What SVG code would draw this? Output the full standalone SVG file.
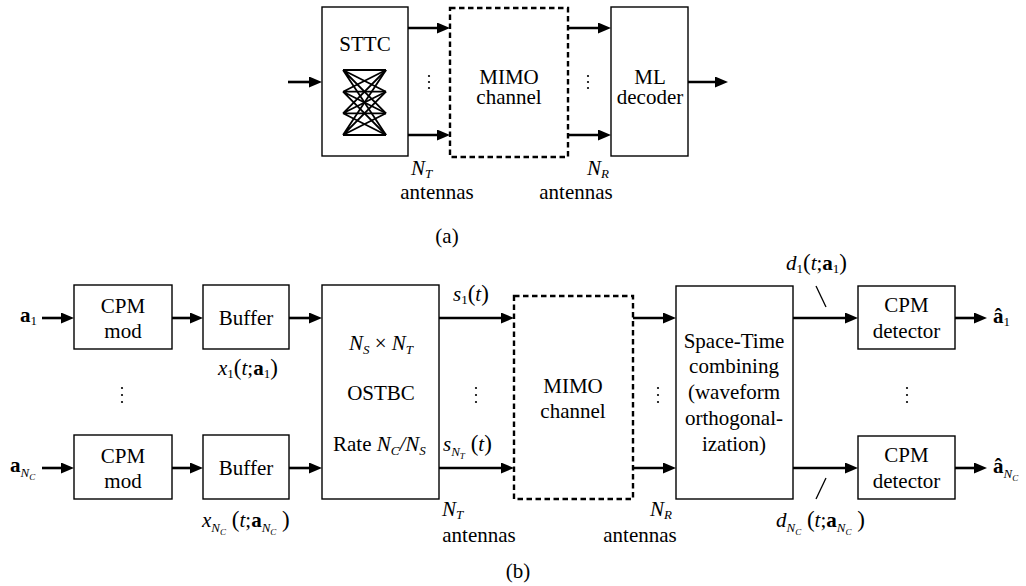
<svg xmlns="http://www.w3.org/2000/svg" width="1026" height="586" viewBox="0 0 1026 586" font-family="Times New Roman, Liberation Serif, serif">
<defs>
<style>
.c{text-anchor:middle}
.i{font-style:italic}
.b{font-weight:bold}
.s{font-size:13px}
.ss{font-size:9px;font-style:italic}
.p{font-size:23px}
.box{fill:#fff;stroke:#000;stroke-width:1.4}
.dash{fill:#fff;stroke:#000;stroke-width:2.4;stroke-dasharray:5.5 3.5}
.arr{stroke:#000;stroke-width:2.6;fill:none;marker-end:url(#ah)}
.thin{stroke:#000;stroke-width:1.3;fill:none}
.tr{stroke:#000;stroke-width:1.8;fill:none}
</style>
<marker id="ah" markerUnits="userSpaceOnUse" markerWidth="13" markerHeight="11" refX="7" refY="5.5" orient="auto">
<path d="M0,0 L13,5.5 L0,11 Z" fill="#000"/>
</marker>
</defs>

<g id="sttc">
<rect class="box" x="322" y="7" width="86" height="149"/>
<text font-family="Times New Roman, Liberation Serif, serif" font-size="21" class="c" x="365" y="51">STTC</text>
<g class="tr">
<path d="M343,70 L386,70 M343,70 L386,91.7 M343,70 L386,113.3 M343,70 L386,135"/>
<path d="M343,91.7 L386,70 M343,91.7 L386,91.7 M343,91.7 L386,113.3 M343,91.7 L386,135"/>
<path d="M343,113.3 L386,70 M343,113.3 L386,91.7 M343,113.3 L386,113.3 M343,113.3 L386,135"/>
<path d="M343,135 L386,70 M343,135 L386,91.7 M343,135 L386,113.3 M343,135 L386,135"/>
</g>
</g>
<g id="mimo-a">
<rect class="dash" x="450" y="8" width="118" height="149"/>
<text font-family="Times New Roman, Liberation Serif, serif" font-size="21" class="c" x="509" y="84">MIMO</text>
<text font-family="Times New Roman, Liberation Serif, serif" font-size="21" class="c" x="509" y="104">channel</text>
</g>
<g id="ml-decoder">
<rect class="box" x="611" y="7" width="77" height="149"/>
<text font-family="Times New Roman, Liberation Serif, serif" font-size="21" class="c" x="650" y="84">ML</text>
<text font-family="Times New Roman, Liberation Serif, serif" font-size="21" class="c" x="650" y="104">decoder</text>
</g>
<g id="labels-a" font-family="Times New Roman, Liberation Serif, serif" font-size="21">
<text font-family="Times New Roman, Liberation Serif, serif" x="411" y="175"><tspan class="i">N</tspan><tspan class="s i" dy="3">T</tspan></text>
<text font-family="Times New Roman, Liberation Serif, serif" class="c" x="437" y="199">antennas</text>
<text font-family="Times New Roman, Liberation Serif, serif" x="587" y="175"><tspan class="i">N</tspan><tspan class="s i" dy="3">R</tspan></text>
<text font-family="Times New Roman, Liberation Serif, serif" class="c" x="576" y="199">antennas</text>
<text font-family="Times New Roman, Liberation Serif, serif" class="c" x="447" y="243">(a)</text>
<g fill="#000">
<circle cx="429" cy="76" r="1.1"/><circle cx="429" cy="82" r="1.1"/><circle cx="429" cy="88" r="1.1"/>
<circle cx="588" cy="76" r="1.1"/><circle cx="588" cy="82" r="1.1"/><circle cx="588" cy="88" r="1.1"/>
</g>
</g>

<g id="cpm-mod-1" font-family="Times New Roman, Liberation Serif, serif" font-size="21">
<rect class="box" x="74" y="285" width="98" height="64"/>
<text font-family="Times New Roman, Liberation Serif, serif" class="c" x="123" y="313">CPM</text>
<text font-family="Times New Roman, Liberation Serif, serif" class="c" x="123" y="338">mod</text>
</g>
<g id="cpm-mod-n" font-family="Times New Roman, Liberation Serif, serif" font-size="21">
<rect class="box" x="74" y="435" width="98" height="64"/>
<text font-family="Times New Roman, Liberation Serif, serif" class="c" x="123" y="463">CPM</text>
<text font-family="Times New Roman, Liberation Serif, serif" class="c" x="123" y="488">mod</text>
</g>
<g id="buffer-1" font-family="Times New Roman, Liberation Serif, serif" font-size="21">
<rect class="box" x="203" y="285" width="86" height="64"/>
<text font-family="Times New Roman, Liberation Serif, serif" class="c" x="246" y="325">Buffer</text>
</g>
<g id="buffer-n" font-family="Times New Roman, Liberation Serif, serif" font-size="21">
<rect class="box" x="203" y="435" width="86" height="64"/>
<text font-family="Times New Roman, Liberation Serif, serif" class="c" x="246" y="475">Buffer</text>
</g>
<g id="ostbc" font-family="Times New Roman, Liberation Serif, serif" font-size="21">
<rect class="box" x="322" y="285" width="117" height="214"/>
<text font-family="Times New Roman, Liberation Serif, serif" class="c" x="381" y="350"><tspan class="i">N</tspan><tspan class="s i" dy="4">S</tspan><tspan dy="-4"> × </tspan><tspan class="i">N</tspan><tspan class="s i" dy="4">T</tspan></text>
<text font-family="Times New Roman, Liberation Serif, serif" class="c" x="381" y="400">OSTBC</text>
<text font-family="Times New Roman, Liberation Serif, serif" x="333" y="451">Rate <tspan class="i">N</tspan><tspan class="s i" dy="4">C</tspan><tspan class="i" dy="-4">/N</tspan><tspan class="s i" dy="4">S</tspan></text>
</g>
<g id="mimo-b" font-family="Times New Roman, Liberation Serif, serif" font-size="21">
<rect class="dash" x="514" y="296" width="119" height="203"/>
<text font-family="Times New Roman, Liberation Serif, serif" class="c" x="573" y="393">MIMO</text>
<text font-family="Times New Roman, Liberation Serif, serif" class="c" x="573" y="418">channel</text>
</g>
<g id="st-combining" font-family="Times New Roman, Liberation Serif, serif" font-size="21">
<rect class="box" x="676" y="286" width="117" height="213"/>
<text font-family="Times New Roman, Liberation Serif, serif" class="c" x="734" y="348">Space-Time</text>
<text font-family="Times New Roman, Liberation Serif, serif" class="c" x="734" y="373">combining</text>
<text font-family="Times New Roman, Liberation Serif, serif" class="c" x="734" y="399">(waveform</text>
<text font-family="Times New Roman, Liberation Serif, serif" class="c" x="734" y="425">orthogonal-</text>
<text font-family="Times New Roman, Liberation Serif, serif" class="c" x="734" y="451">ization)</text>
</g>
<g id="cpm-det-1" font-family="Times New Roman, Liberation Serif, serif" font-size="21">
<rect class="box" x="858" y="286" width="97" height="63"/>
<text font-family="Times New Roman, Liberation Serif, serif" class="c" x="906.5" y="312">CPM</text>
<text font-family="Times New Roman, Liberation Serif, serif" class="c" x="906.5" y="338">detector</text>
</g>
<g id="cpm-det-n" font-family="Times New Roman, Liberation Serif, serif" font-size="21">
<rect class="box" x="858" y="436" width="97" height="63"/>
<text font-family="Times New Roman, Liberation Serif, serif" class="c" x="906.5" y="462">CPM</text>
<text font-family="Times New Roman, Liberation Serif, serif" class="c" x="906.5" y="488">detector</text>
</g>

<g id="labels-b" font-family="Times New Roman, Liberation Serif, serif" font-size="21">
<text font-family="Times New Roman, Liberation Serif, serif" x="20" y="322"><tspan class="b">a</tspan><tspan class="s" dy="3">1</tspan></text>
<text font-family="Times New Roman, Liberation Serif, serif" x="10" y="472"><tspan class="b">a</tspan><tspan class="s i" dy="5">N</tspan><tspan class="ss" dy="3">C</tspan></text>
<text font-family="Times New Roman, Liberation Serif, serif" x="218" y="375"><tspan class="i">x</tspan><tspan class="s" dy="3">1</tspan><tspan class="p" dy="-3">(</tspan><tspan class="i">t</tspan>;<tspan class="b">a</tspan><tspan class="s" dy="3">1</tspan><tspan class="p" dy="-3">)</tspan></text>
<text font-family="Times New Roman, Liberation Serif, serif" x="202" y="527"><tspan class="i">x</tspan><tspan class="s i" dy="5">N</tspan><tspan class="ss" dy="3">C</tspan><tspan class="p" dy="-8"> (</tspan><tspan class="i">t</tspan>;<tspan class="b">a</tspan><tspan class="s i" dy="5">N</tspan><tspan class="ss" dy="3">C</tspan><tspan class="p" dy="-8"> )</tspan></text>
<text font-family="Times New Roman, Liberation Serif, serif" x="453" y="301"><tspan class="i">s</tspan><tspan class="s" dy="3">1</tspan><tspan class="p" dy="-3">(</tspan><tspan class="i">t</tspan><tspan class="p">)</tspan></text>
<text font-family="Times New Roman, Liberation Serif, serif" x="443" y="451"><tspan class="i">s</tspan><tspan class="s i" dy="5">N</tspan><tspan class="ss" dy="3">T</tspan><tspan class="p" dy="-8"> (</tspan><tspan class="i">t</tspan><tspan class="p">)</tspan></text>
<text font-family="Times New Roman, Liberation Serif, serif" x="442" y="516"><tspan class="i">N</tspan><tspan class="s i" dy="3">T</tspan></text>
<text font-family="Times New Roman, Liberation Serif, serif" class="c" x="479" y="542">antennas</text>
<text font-family="Times New Roman, Liberation Serif, serif" x="650" y="516"><tspan class="i">N</tspan><tspan class="s i" dy="3">R</tspan></text>
<text font-family="Times New Roman, Liberation Serif, serif" class="c" x="640" y="542">antennas</text>
<text font-family="Times New Roman, Liberation Serif, serif" x="786" y="270"><tspan class="i">d</tspan><tspan class="s" dy="3">1</tspan><tspan class="p" dy="-3">(</tspan><tspan class="i">t</tspan>;<tspan class="b">a</tspan><tspan class="s" dy="3">1</tspan><tspan class="p" dy="-3">)</tspan></text>
<text font-family="Times New Roman, Liberation Serif, serif" x="776" y="527"><tspan class="i">d</tspan><tspan class="s i" dy="5">N</tspan><tspan class="ss" dy="3">C</tspan><tspan class="p" dy="-8"> (</tspan><tspan class="i">t</tspan>;<tspan class="b">a</tspan><tspan class="s i" dy="5">N</tspan><tspan class="ss" dy="3">C</tspan><tspan class="p" dy="-8"> )</tspan></text>
<text font-family="Times New Roman, Liberation Serif, serif" x="993" y="323"><tspan class="b">â</tspan><tspan class="s" dy="3">1</tspan></text>
<text font-family="Times New Roman, Liberation Serif, serif" x="993" y="473"><tspan class="b">â</tspan><tspan class="s i" dy="5">N</tspan><tspan class="ss" dy="3">C</tspan></text>
<text font-family="Times New Roman, Liberation Serif, serif" class="c" x="518" y="578">(b)</text>
<g fill="#000">
<circle cx="122" cy="388" r="1.1"/><circle cx="122" cy="395" r="1.1"/><circle cx="122" cy="402" r="1.1"/>
<circle cx="476" cy="388" r="1.1"/><circle cx="476" cy="395" r="1.1"/><circle cx="476" cy="402" r="1.1"/>
<circle cx="658" cy="388" r="1.1"/><circle cx="658" cy="395" r="1.1"/><circle cx="658" cy="402" r="1.1"/>
<circle cx="907" cy="388" r="1.1"/><circle cx="907" cy="395" r="1.1"/><circle cx="907" cy="402" r="1.1"/>
</g>
</g>

<g id="connectors">
<line class="arr" x1="288" y1="82" x2="316" y2="82"/>
<line class="arr" x1="408" y1="28" x2="444" y2="28"/>
<line class="arr" x1="408" y1="135" x2="444" y2="135"/>
<line class="arr" x1="568" y1="28" x2="605" y2="28"/>
<line class="arr" x1="568" y1="135" x2="605" y2="135"/>
<line class="arr" x1="688" y1="82" x2="722" y2="82"/>
<line class="arr" x1="42" y1="318" x2="68" y2="318"/>
<line class="arr" x1="172" y1="318" x2="197" y2="318"/>
<line class="arr" x1="289" y1="318" x2="316" y2="318"/>
<line class="arr" x1="42" y1="468" x2="68" y2="468"/>
<line class="arr" x1="172" y1="468" x2="197" y2="468"/>
<line class="arr" x1="289" y1="468" x2="316" y2="468"/>
<line class="arr" x1="439" y1="318" x2="508" y2="318"/>
<line class="arr" x1="439" y1="468" x2="508" y2="468"/>
<line class="arr" x1="633" y1="318" x2="670" y2="318"/>
<line class="arr" x1="633" y1="468" x2="670" y2="468"/>
<line class="arr" x1="793" y1="318" x2="852" y2="318"/>
<line class="arr" x1="793" y1="468" x2="852" y2="468"/>
<line class="arr" x1="955" y1="318" x2="981" y2="318"/>
<line class="arr" x1="955" y1="468" x2="981" y2="468"/>
<line class="thin" x1="816" y1="286" x2="826" y2="307"/>
<line class="thin" x1="826" y1="478" x2="816" y2="499"/>
</g>
</svg>
